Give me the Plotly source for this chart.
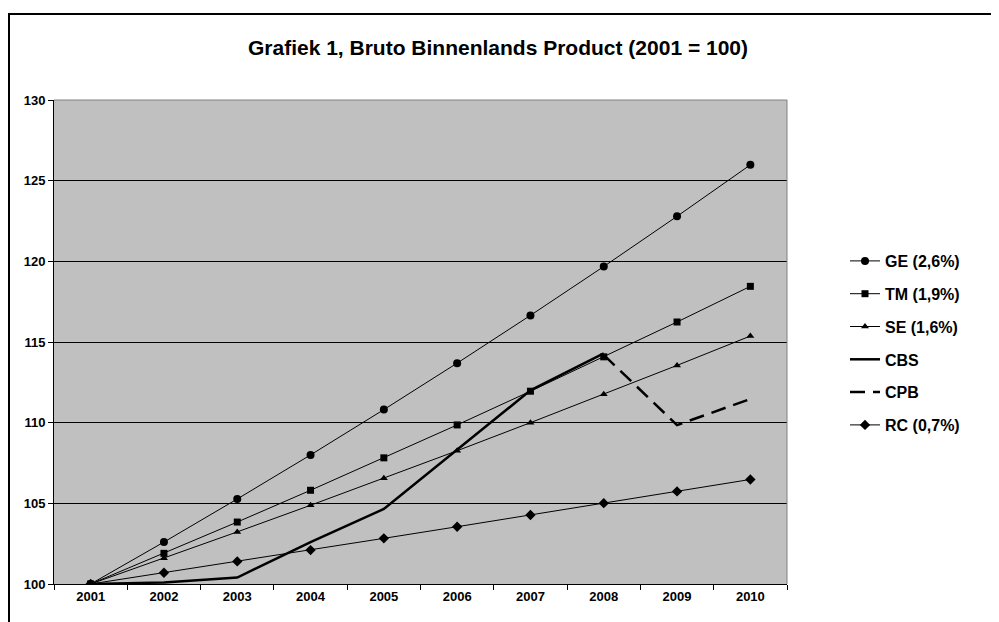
import plotly.graph_objects as go

years = ["2001", "2002", "2003", "2004", "2005", "2006", "2007", "2008", "2009", "2010"]
ge = [100, 102.6, 105.27, 108.0, 110.81, 113.69, 116.65, 119.68, 122.79, 125.98]
tm = [100, 101.9, 103.84, 105.81, 107.82, 109.86, 111.95, 114.08, 116.24, 118.45]
se = [100, 101.6, 103.23, 104.88, 106.56, 108.26, 110.0, 111.76, 113.55, 115.37]
cbs_years = ["2001", "2002", "2003", "2004", "2005", "2006", "2007", "2008"]
cbs = [100, 100.1, 100.4, 102.6, 104.65, 108.3, 112.0, 114.3]
cpb_years = ["2008", "2009", "2010"]
cpb = [114.2, 109.85, 111.47]
rc = [100, 100.7, 101.4, 102.1, 102.83, 103.55, 104.28, 105.01, 105.74, 106.48]

FONT = "Liberation Sans, Arial, sans-serif"

fig = go.Figure()
common = dict(mode="lines+markers", line=dict(color="black", width=1))
fig.add_trace(go.Scatter(x=years, y=ge, name="GE (2,6%)", marker=dict(symbol="circle", size=8, color="black"), legendgroup="a", **common))
fig.add_trace(go.Scatter(x=years, y=tm, name="TM (1,9%)", marker=dict(symbol="square", size=7, color="black"), legendgroup="b", **common))
fig.add_trace(go.Scatter(x=years, y=se, name="SE (1,6%)", marker=dict(symbol="triangle-up", size=7, color="black"), legendgroup="c", **common))
fig.add_trace(go.Scatter(x=cbs_years, y=cbs, name="CBS", mode="lines", line=dict(color="black", width=2.5), legendgroup="d"))
fig.add_trace(go.Scatter(x=cpb_years, y=cpb, name="CPB", mode="lines", line=dict(color="black", width=2.5, dash="15px,8px"), legendgroup="e"))
fig.add_trace(go.Scatter(x=years, y=rc, name="RC (0,7%)", marker=dict(symbol="diamond", size=8, color="black"), legendgroup="f", **common))

# page is offset by the 8px body margin
OFF = 8
W, H = 999 - OFF, 622 - OFF
L, R, T, B = 54 - OFF, 787 - OFF, 100 - OFF, 584 - OFF
pw, ph = R - L, B - T

fig.update_layout(
    width=W, height=H,
    margin=dict(l=L, r=W - R, t=T, b=H - B),
    paper_bgcolor="white", plot_bgcolor="#C0C0C0",
    font=dict(family=FONT, size=13, color="black"),
    title=dict(text="<b>Grafiek 1, Bruto Binnenlands Product (2001 = 100)</b>",
               x=(498 - OFF - L) / pw, xanchor="center", xref="paper",
               y=1 - (48 - OFF) / H, yanchor="middle",
               font=dict(size=21, family=FONT)),
    legend=dict(x=(845 - OFF - L) / pw, xanchor="left", y=(B - (244 - OFF)) / ph, yanchor="top",
                font=dict(size=16, family=FONT, weight="bold"),
                tracegroupgap=9, bgcolor="rgba(0,0,0,0)"),
    showlegend=True,
)
fig.update_xaxes(type="category", range=[-0.5, 9.5], tickson="boundaries", ticks="outside",
                 ticklen=5, tickcolor="black", showline=True, linecolor="black", linewidth=1,
                 showgrid=False, tickfont=dict(size=13, weight="bold"), mirror=False)
fig.update_yaxes(range=[100, 130], dtick=5, ticks="outside", ticklen=5, tickcolor="black",
                 showline=True, linecolor="black", linewidth=1, showgrid=True, gridcolor="black",
                 gridwidth=1, zeroline=False, tickfont=dict(size=13, weight="bold"))

# plot-area top/right gray border
fig.add_shape(type="line", xref="paper", yref="paper", x0=0, x1=1, y0=1, y1=1,
              line=dict(color="#808080", width=1))
fig.add_shape(type="line", xref="paper", yref="paper", x0=1, x1=1, y0=0, y1=1,
              line=dict(color="#808080", width=1))
# outer chart frame
fig.add_shape(type="rect", xref="paper", yref="paper",
              x0=(9 - OFF - L) / pw, x1=(1010 - L) / pw, y0=(B - 640) / ph, y1=(B - (14 - OFF)) / ph,
              line=dict(color="black", width=2), layer="below")

fig.write_html("out.html")
